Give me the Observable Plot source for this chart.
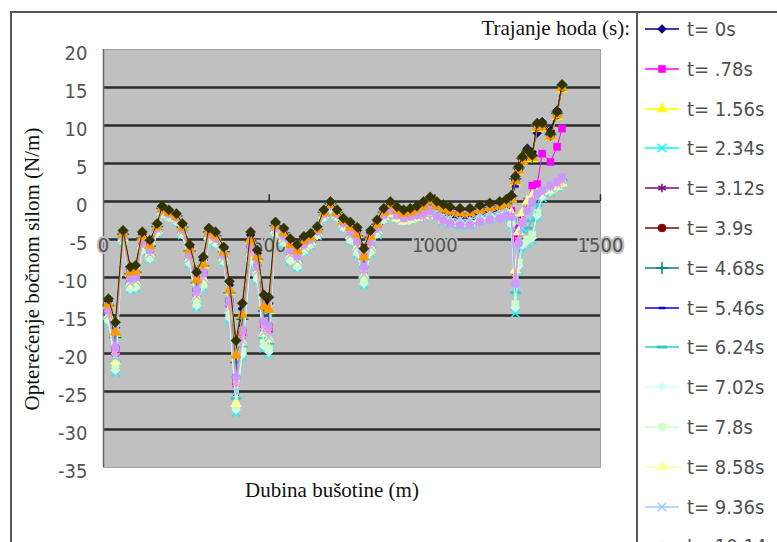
<!DOCTYPE html>
<html>
<head>
<meta charset="utf-8">
<script src="https://cdn.jsdelivr.net/npm/d3@7"></script>
<script src="https://cdn.jsdelivr.net/npm/@observablehq/plot@0.6"></script>
<style>
  html, body { margin:0; padding:0; background:#fff; }
  body { width:777px; height:542px; overflow:hidden; position:relative; font-family:"Liberation Serif","Times New Roman",serif; }
  #chart { position:absolute; left:0; top:0; }
  .rule { position:absolute; background:#555; }
  .lbl { position:absolute; white-space:nowrap; color:#111; font-family:"Liberation Serif",serif; font-size:21px; line-height:1; }
  #legend { position:absolute; left:637px; top:0; width:140px; height:542px; overflow:hidden; }
  .item { position:absolute; left:6px; height:24px; display:flex; align-items:center; }
  .item span { font-family:"DejaVu Sans Condensed","Liberation Sans Narrow","DejaVu Sans Mono",monospace; font-size:20px; color:#505050; margin-left:2px; white-space:nowrap; }
</style>
</head>
<body>
<div id="chart"></div>
<div class="rule" style="left:10px; top:11px; width:767px; height:2px;"></div>
<div class="rule" style="left:10px; top:11px; width:2px; height:531px;"></div>
<div class="rule" style="left:636px; top:11px; width:2px; height:531px;"></div>
<div class="lbl" id="title" style="right:147px; top:18px;">Trajanje hoda (s):</div>
<div class="lbl" id="ylab" style="left:32px; top:269px; transform:translate(-50%,-50%) rotate(-90deg);">Opterećenje bočnom silom (N/m)</div>
<div class="lbl" id="xlab" style="left:332px; top:480px; transform:translateX(-50%);">Dubina bušotine (m)</div>
<div id="legend"></div>
<script>
// ---- data ----
const depth = [15,36,59,81,97,117,140,162,177,197,220,238,260,281,301,318,338,363,380,400,419,444,464,484,499,519,544,564,585,605,625,645,665,685,705,724,745,766,786,806,826,846,866,886,906,926,946,966,986,1006,1026,1046,1076,1106,1136,1166,1196,1216,1231,1243,1253,1264,1279,1294,1309,1324,1349,1369,1384];

const seriesLabels = ["t= 0s","t= .78s","t= 1.56s","t= 2.34s","t= 3.12s","t= 3.9s","t= 4.68s","t= 5.46s","t= 6.24s","t= 7.02s","t= 7.8s","t= 8.58s","t= 9.36s","t= 10.14s","t= 10.92s","t= 11.7s","t= 12.48s"];

const yTicks = [20,15,10,5,0,-5,-10,-15,-20,-25,-30,-35];
const gridValues = [15,10,5,0,-5,-10,-15,-20,-25,-30];
const xTicks = [0,500,1000,1500];

const s00 = [-13.1,-16.6,-4.0,-8.9,-8.7,-4.3,-5.4,-3.0,-0.7,-1.2,-1.7,-3.1,-6.0,-9.8,-7.7,-3.7,-4.2,-6.2,-11.0,-19.3,-14.1,-4.4,-6.8,-13.0,-13.4,-2.9,-3.7,-5.2,-6.0,-4.8,-4.4,-3.4,-1.2,-0.1,-1.2,-2.3,-3.0,-3.8,-6.7,-4.1,-2.6,-1.1,-0.2,-0.9,-1.3,-1.1,-0.8,-0.2,0.4,-0.2,-0.6,-0.9,-1.1,-1.1,-0.7,-0.4,-0.2,0.1,
  0.8,3.0,4.2,5.5,7.0,6.5,9.0,10.5,9.3,12.0,15.3];
const s01 = [-14.6,-19.9,-4.3,-9.5,-9.3,-4.8,-5.9,-3.3,-0.9,-1.4,-1.9,-3.4,-6.5,-12.1,-9.7,-4.0,-4.5,-6.6,-13.5,-24.0,-17.6,-5.2,-7.6,-16.5,-17.1,-3.2,-4.1,-5.8,-6.6,-5.2,-4.7,-3.7,-1.4,-0.3,-1.4,-2.6,-3.5,-4.5,-8.2,-4.7,-3.0,-1.4,-0.5,-1.2,-1.6,-1.4,-1.1,-0.6,0.0,-0.6,-1.1,-1.4,-1.6,-1.6,-1.1,-0.8,-0.6,-0.3,
  -1.2,-4.9,-3.5,-2.5,0.0,2.1,2.3,6.3,5.2,7.2,9.6];
const s02 = [-13.7,-17.5,-4.4,-9.5,-9.3,-4.8,-5.9,-3.4,-1.1,-1.6,-2.1,-3.5,-6.5,-10.5,-8.4,-4.1,-4.6,-6.7,-11.8,-20.5,-15.1,-5.1,-7.5,-14.0,-14.4,-3.3,-4.2,-5.8,-6.6,-5.3,-4.8,-3.8,-1.6,-0.5,-1.6,-2.7,-3.5,-4.4,-7.5,-4.7,-3.1,-1.5,-0.6,-1.3,-1.7,-1.5,-1.2,-0.7,-0.1,-0.7,-1.1,-1.4,-1.6,-1.6,-1.2,-0.9,-0.7,-0.4,
  0.3,2.5,4.0,5.3,6.2,5.6,9.6,9.8,8.5,11.2,14.8];
const s03 = [-15.8,-22.5,-5.3,-11.6,-11.4,-6.5,-7.6,-4.1,-1.6,-2.1,-2.6,-4.4,-8.2,-13.9,-11.3,-5.0,-5.5,-8.0,-15.5,-27.8,-20.4,-8.0,-10.4,-19.3,-20.1,-4.2,-5.5,-7.9,-8.7,-6.6,-5.7,-4.5,-2.1,-1.0,-2.1,-3.4,-5.2,-6.9,-11.0,-6.8,-4.4,-2.4,-1.5,-2.2,-2.6,-2.4,-2.1,-2.0,-1.4,-2.0,-2.6,-2.9,-3.1,-3.1,-2.5,-2.2,-2.0,-1.7,
  -3.2,-14.7,-9.0,-6.0,-5.5,-5.1,-2.0,0.5,1.2,1.8,2.4];
const s04 = [-14.6,-19.9,-4.7,-10.4,-10.2,-5.5,-6.6,-3.6,-1.2,-1.7,-2.2,-3.8,-7.2,-12.1,-9.7,-4.4,-4.9,-7.2,-13.5,-24.0,-17.6,-6.4,-8.8,-16.5,-17.1,-3.6,-4.7,-6.7,-7.5,-5.8,-5.1,-4.0,-1.7,-0.6,-1.7,-2.9,-4.2,-5.5,-9.1,-5.6,-3.6,-1.8,-0.9,-1.6,-2.0,-1.8,-1.5,-1.2,-0.6,-1.2,-1.7,-2.0,-2.2,-2.2,-1.7,-1.4,-1.2,-0.9,
  -1.5,-9.5,-4.5,-2.0,-0.5,0.5,1.0,1.5,2.0,2.5,3.0];
const s05 = [-14.3,-19.2,-4.6,-10.1,-9.9,-5.3,-6.4,-3.5,-1.1,-1.6,-2.1,-3.7,-7.0,-11.6,-9.3,-4.3,-4.8,-7.0,-13.0,-23.1,-16.9,-6.0,-8.4,-15.8,-16.4,-3.5,-4.5,-6.4,-7.2,-5.6,-5.0,-3.9,-1.6,-0.5,-1.6,-2.8,-4.0,-5.2,-8.6,-5.3,-3.4,-1.7,-0.8,-1.5,-1.9,-1.7,-1.4,-1.0,-0.4,-1.0,-1.5,-1.8,-2.0,-2.0,-1.5,-1.2,-1.0,-0.7,
  0.6,2.8,4.2,5.5,6.4,6.0,9.8,10.0,8.7,11.4,15.0];
const s06 = [-13.7,-17.9,-4.3,-9.5,-9.3,-4.8,-5.9,-3.3,-0.9,-1.4,-1.9,-3.4,-6.5,-10.7,-8.5,-4.0,-4.5,-6.6,-12.0,-21.2,-15.5,-5.2,-7.6,-14.4,-14.9,-3.2,-4.1,-5.8,-6.6,-5.2,-4.7,-3.7,-1.4,-0.3,-1.4,-2.6,-3.5,-4.5,-7.6,-4.7,-3.0,-1.4,-0.5,-1.2,-1.6,-1.4,-1.1,-0.6,0.0,-0.6,-1.1,-1.4,-1.6,-1.6,-1.1,-0.8,-0.6,-0.3,
  0.7,3.0,4.4,5.7,6.6,6.0,10.0,10.1,8.8,11.6,15.2];
const s07 = [-15.0,-20.9,-5.0,-10.9,-10.7,-5.9,-7.0,-3.8,-1.4,-1.9,-2.4,-4.0,-7.6,-12.8,-10.3,-4.7,-5.2,-7.5,-14.3,-25.4,-18.7,-7.0,-9.4,-17.6,-18.3,-3.9,-5.0,-7.2,-8.0,-6.1,-5.4,-4.2,-1.9,-0.8,-1.9,-3.1,-4.6,-6.1,-9.8,-6.1,-3.9,-2.1,-1.2,-1.9,-2.3,-2.1,-1.8,-1.5,-0.9,-1.5,-2.1,-2.4,-2.6,-2.6,-2.0,-1.7,-1.5,-1.2,
  0.5,2.0,4.0,5.8,6.5,6.2,10.0,10.2,8.9,11.7,15.2];
const s08 = [-15.2,-21.2,-5.0,-11.0,-10.8,-6.0,-7.1,-3.9,-1.4,-1.9,-2.4,-4.1,-7.7,-13.0,-10.5,-4.7,-5.2,-7.6,-14.5,-25.9,-19.0,-7.2,-9.6,-17.9,-18.6,-3.9,-5.1,-7.3,-8.1,-6.2,-5.4,-4.3,-1.9,-0.8,-1.9,-3.2,-4.7,-6.2,-10.0,-6.2,-4.0,-2.1,-1.2,-1.9,-2.3,-2.1,-1.8,-1.6,-1.0,-1.6,-2.2,-2.5,-2.7,-2.7,-2.1,-1.8,-1.6,-1.3,
  -2.4,-12.0,-6.5,-4.0,-3.5,-2.5,-0.5,1.0,1.6,2.2,2.8];
const s09 = [-15.7,-22.2,-5.3,-11.5,-11.3,-6.4,-7.5,-4.1,-1.6,-2.1,-2.6,-4.4,-8.1,-13.7,-11.1,-5.0,-5.5,-7.9,-15.3,-27.4,-20.1,-7.8,-10.2,-19.0,-19.8,-4.2,-5.4,-7.8,-8.6,-6.5,-5.7,-4.5,-2.1,-1.0,-2.1,-3.4,-5.1,-6.8,-10.8,-6.7,-4.3,-2.4,-1.5,-2.2,-2.6,-2.4,-2.1,-1.9,-1.3,-1.9,-2.5,-2.8,-3.0,-3.0,-2.4,-2.1,-1.9,-1.6,
  -3.0,-14.0,-8.5,-5.8,-5.2,-4.8,-1.8,0.6,1.3,1.9,2.5];
const s10 = [-15.5,-21.8,-5.2,-11.3,-11.1,-6.3,-7.4,-4.0,-1.5,-2.0,-2.5,-4.3,-8.0,-13.4,-10.9,-4.9,-5.4,-7.8,-15.0,-26.9,-19.7,-7.6,-10.0,-18.6,-19.4,-4.1,-5.3,-7.6,-8.4,-6.4,-5.6,-4.4,-2.0,-0.9,-2.0,-3.3,-5.0,-6.6,-10.5,-6.5,-4.2,-2.3,-1.4,-2.1,-2.5,-2.3,-2.0,-1.8,-1.2,-1.8,-2.4,-2.7,-2.9,-2.9,-2.3,-2.0,-1.8,-1.5,
  -2.8,-13.5,-8.0,-5.5,-5.0,-4.4,-1.5,0.8,1.5,2.0,2.6];
const s11 = [-15.1,-21.0,-4.9,-10.8,-10.6,-5.8,-6.9,-3.8,-1.3,-1.8,-2.3,-4.0,-7.5,-12.7,-10.2,-4.6,-5.1,-7.4,-14.2,-26.6,-18.5,-6.9,-9.3,-17.4,-18.1,-3.8,-4.9,-7.1,-7.9,-6.0,-5.3,-4.1,-1.8,-0.7,-1.8,-3.0,-4.5,-6.0,-9.7,-6.0,-3.8,-2.0,-1.6,-2.2,-2.6,-2.4,-2.1,-1.9,-1.4,-1.9,-2.4,-2.6,-2.8,-2.8,-2.3,-2.0,-1.8,-1.5,
  -1.5,-9.0,-4.0,-1.5,0.0,0.8,1.0,1.3,1.6,2.0,2.4];
const s12 = [-14.9,-20.5,-4.9,-10.7,-10.5,-5.8,-6.9,-3.7,-1.3,-1.8,-2.3,-3.9,-7.5,-12.5,-10.1,-4.6,-5.1,-7.4,-14.0,-25.0,-18.3,-6.8,-9.2,-17.2,-17.9,-3.8,-4.9,-7.0,-7.8,-6.0,-5.3,-4.1,-1.8,-0.7,-1.8,-3.0,-4.5,-5.9,-9.6,-5.9,-3.8,-2.0,-1.1,-1.8,-2.2,-2.0,-1.7,-1.4,-0.8,-1.4,-1.9,-2.2,-2.4,-2.4,-1.9,-1.6,-1.4,-1.1,
  -2.0,-11.0,-6.0,-3.5,-2.0,-1.0,0.5,1.2,1.8,2.3,2.9];
const s13 = [-14.6,-19.9,-4.7,-10.4,-10.2,-5.5,-6.6,-3.6,-1.2,-1.7,-2.2,-3.8,-7.2,-12.1,-9.7,-4.4,-4.9,-7.2,-13.5,-24.0,-17.6,-6.4,-8.8,-16.5,-17.1,-3.6,-4.7,-6.7,-7.5,-5.8,-5.1,-4.0,-1.7,-0.6,-1.7,-2.9,-4.2,-5.5,-9.1,-5.6,-3.6,-1.8,-0.9,-1.6,-2.0,-1.8,-1.5,-2.1,-1.5,-2.1,-2.5,-2.8,-3.0,-3.0,-2.6,-2.3,-2.1,-1.8,
  -1.8,-10.0,-5.0,-2.5,-1.0,0.2,1.0,1.4,1.9,2.3,2.7];
const s14 = [-14.3,-19.2,-4.6,-10.1,-9.9,-5.3,-6.4,-3.5,-1.1,-1.6,-2.1,-3.7,-7.0,-11.6,-9.3,-4.3,-4.8,-7.0,-13.0,-23.1,-16.9,-6.0,-8.4,-15.8,-16.4,-3.5,-4.5,-6.4,-7.2,-5.6,-5.0,-3.9,-1.6,-0.5,-1.6,-2.8,-4.0,-5.2,-8.6,-5.3,-3.4,-1.7,-1.2,-1.8,-2.2,-2.0,-1.8,-1.6,-1.2,-1.9,-2.5,-2.9,-3.1,-3.1,-2.7,-2.4,-2.2,-1.9,
  -2.0,-10.8,-5.5,-2.8,-1.2,0.0,1.0,1.5,2.1,2.6,3.2];
const s15 = [-13.5,-17.2,-4.3,-9.3,-9.1,-4.7,-5.8,-3.3,-1.0,-1.5,-2.0,-3.4,-6.3,-10.3,-8.2,-4.0,-4.5,-6.6,-11.6,-20.2,-14.9,-5.0,-7.3,-13.8,-14.2,-3.2,-4.1,-5.7,-6.5,-5.2,-4.7,-3.7,-1.5,-0.4,-1.5,-2.6,-3.4,-4.3,-7.3,-4.6,-3.0,-1.4,-0.5,-1.2,-1.6,-1.4,-1.1,-0.6,0.0,-0.6,-1.0,-1.3,-1.5,-1.5,-1.1,-0.8,-0.6,-0.3,
  0.4,2.7,4.1,5.4,6.3,5.8,9.8,9.9,8.6,11.4,15.0];
const s16 = [-12.8,-15.9,-3.8,-8.6,-8.4,-4.0,-5.1,-2.9,-0.6,-1.1,-1.6,-2.9,-5.7,-9.3,-7.3,-3.5,-4.0,-6.0,-10.5,-18.3,-13.4,-4.0,-6.4,-12.3,-12.6,-2.7,-3.5,-4.9,-5.7,-4.6,-4.2,-3.3,-1.1,0,-1.1,-2.2,-2.7,-3.4,-6.2,-3.8,-2.4,-0.9,0,-0.7,-1.1,-0.9,-0.6,0,0.6,0,-0.4,-0.7,-0.9,-0.9,-0.5,-0.2,0,0.3,
  0.8,3.3,4.6,5.9,6.8,6.1,10.3,10.3,9.0,11.8,15.4];

const seriesValues = [s00,s01,s02,s03,s04,s05,s06,s07,s08,s09,s10,s11,s12,s13,s14,s15,s16];

// ---- styles ----
const colors = ["#000080","#FF00FF","#FFFF00","#00FFFF","#800080","#800000","#008080","#0000FF","#33CCCC","#CCFFFF","#CCFFCC","#FFFF99","#99CCFF","#FF99CC","#CC99FF","#FF9900","#333300"];
const dotSym = { draw(ctx, size) { const r = Math.sqrt(size / Math.PI); ctx.moveTo(-r*0.8,-1); ctx.lineTo(r*0.8,-1); ctx.lineTo(r*0.8,1); ctx.lineTo(-r*0.8,1); ctx.closePath(); } };
const dashSym = { draw(ctx, size) { const r = Math.sqrt(size / Math.PI); ctx.moveTo(-r*1.3,-1.2); ctx.lineTo(r*1.3,-1.2); ctx.lineTo(r*1.3,1.2); ctx.lineTo(-r*1.3,1.2); ctx.closePath(); } };
const symbols = ["diamond2","square","triangle","times","asterisk","circle","plus",dotSym,dashSym,"diamond2","square","triangle","times","asterisk","circle","triangle","diamond2"];
const strokeOnly = new Set(["times","asterisk","plus"]);

const marks = [
  Plot.frame({fill:"#c0c0c0", stroke:"#a0a0a0"}),
  Plot.ruleY(gridValues, {stroke:"#2b2b2b", strokeWidth:2.6}),
  Plot.ruleX([0], {stroke:"#666", strokeWidth:1.5}),
  Plot.ruleX(xTicks.slice(1), {x:d=>d, y1:0, y2:0.9, stroke:"#2b2b2b", strokeWidth:1.5}),
  Plot.axisY({ticks:yTicks, tickSize:0, tickPadding:16, dy:4, label:null, fontSize:20, fill:"#555", tickFormat:d=>String(d)}),
  Plot.text(xTicks, {x:d=>d, y:()=>-5, dy:6, text:d=>String(d), fontSize:20, fill:"#555", stroke:"#c0c0c0", strokeWidth:4})
];

seriesValues.forEach((vals, k) => {
  const n = Math.min(vals.length, depth.length);
  const data = [];
  for (let i = 0; i < n; i++) data.push({d: depth[i], v: vals[i]});
  const sym = symbols[k];
  const so = typeof sym === "string" && strokeOnly.has(sym);
  marks.push(Plot.line(data, {x:"d", y:"v", stroke:colors[k], strokeWidth:1}));
  marks.push(Plot.dot(data, {x:"d", y:"v", symbol:sym, r: k === 16 ? 4.6 : 4,
    fill: so ? "none" : colors[k], stroke: colors[k], strokeWidth: so ? 1.5 : 0.5}));
});

const chart = Plot.plot({
  width: 777, height: 542,
  marginLeft: 103, marginRight: 177, marginTop: 49, marginBottom: 75,
  x: {domain:[0,1500], axis:null},
  y: {domain:[-35,20]},
  style: {background:"transparent", fontFamily:"'DejaVu Sans Condensed','Liberation Sans Narrow','DejaVu Sans Mono',monospace", fontSize:"20px", overflow:"visible"},
  marks
});
document.getElementById("chart").append(chart);

// ---- legend (the page shows the first entries; the rest fall below the edge) ----
const symbolTypes = {diamond2:d3.symbolDiamond2, square:d3.symbolSquare, triangle:d3.symbolTriangle, times:(d3.symbolTimes||d3.symbolX), asterisk:d3.symbolAsterisk, circle:d3.symbolCircle, plus:d3.symbolPlus};
const legend = document.getElementById("legend");
const legendTop = 29, legendStep = 39.8;
seriesLabels.slice(0, 14).forEach((lab, k) => {
  const item = document.createElement("div");
  item.className = "item";
  item.style.top = (legendTop + k*legendStep - 12) + "px";
  const sym = symbols[k];
  const type = typeof sym === "string" ? symbolTypes[sym] : sym;
  const so = typeof sym === "string" && strokeOnly.has(sym);
  const svg = d3.create("svg").attr("width", 42).attr("height", 24);
  svg.append("line").attr("x1", 2).attr("x2", 36).attr("y1", 12).attr("y2", 12).attr("stroke", colors[k]).attr("stroke-width", 1.6);
  svg.append("path").attr("transform", "translate(19,12)").attr("d", d3.symbol(type, 16*Math.PI)())
    .attr("fill", so ? "none" : colors[k]).attr("stroke", colors[k]).attr("stroke-width", so ? 1.5 : 0.5);
  item.append(svg.node());
  const span = document.createElement("span");
  span.textContent = lab;
  item.append(span);
  legend.append(item);
});
</script>
</body>
</html>
